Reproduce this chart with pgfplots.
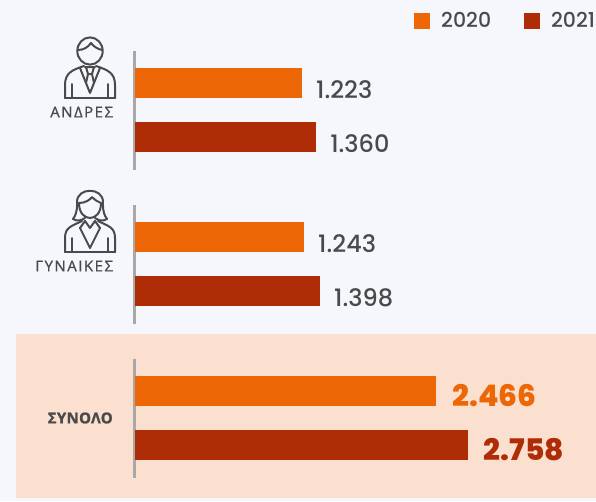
\documentclass[border=0pt]{standalone}
\usepackage{fontspec}
\usepackage{pgfplots}
\pgfplotsset{compat=1.18}
\setmainfont[UprightFeatures={FakeBold=0.9,LetterSpace=10},BoldFeatures={FakeBold=1.2,LetterSpace=2}]{Open Sans}
\newfontfamily\numf[UprightFont=* Medium,BoldFont=* ExtraBold]{Poppins}
\definecolor{bg}{HTML}{F5F7FC}
\definecolor{panel}{HTML}{FBE0D0}
\definecolor{oran}{HTML}{EE6707}
\definecolor{brick}{HTML}{AE2C06}
\definecolor{ink}{HTML}{4A4A4A}
\definecolor{axgray}{HTML}{A8A8A8}
\pgfplotsset{
  grp/.style={
    scale only axis, width=462pt, anchor=north west,
    y dir=reverse, axis y line*=left, axis x line=none,
    y axis line style={draw=axgray,line width=3pt,-},
    xtick=\empty, ytick style={draw=none},
    xbar, bar width=30pt, bar shift=0pt,
    clip=false,
    point meta=explicit symbolic,
    nodes near coords,
    every node near coord/.style={anchor=west,font=\numf\fontsize{24}{24}\selectfont,text=ink,inner sep=0pt,xshift=14pt,yshift=-7pt},
    yticklabel style={font=\fontsize{15}{15}\selectfont,text=ink,anchor=east,xshift=-16.5pt,inner sep=0pt},
  }
}
\begin{document}
\begin{tikzpicture}[x=1pt,y=-1pt]
\path[use as bounding box] (0,0) rectangle (596,501);
\fill[bg] (0,0) rectangle (596,501);
\fill[panel] (16,334) rectangle (596,498);
% man icon
\begin{scope}[draw=ink,line width=2pt,line join=round,line cap=round]
\draw (90,51) ellipse (12.7 and 13.6);
\draw (78,50) .. controls (84,50) and (88,47) .. (91,43) .. controls (94,47) and (98,49) .. (102,50);
\draw (65,98) -- (65,85) .. controls (65,73) and (72,70) .. (84,66);
\draw (115,98) -- (115,85) .. controls (115,73) and (108,70) .. (96,66);
\draw (65,98) -- (115,98);
\draw (72,84) -- (72,98) (108,84) -- (108,98);
\draw (80,68) -- (90,93) -- (100,68);
\draw (85,67) -- (95,67) (86,67) -- (88,74) -- (92,74) -- (94,67) (88,74) -- (86,83) (92,74) -- (94,83);
\end{scope}
% woman icon
\begin{scope}[draw=ink,line width=2pt,line join=round,line cap=round]
\draw (73,219) .. controls (78,212) and (77,205) .. (77,202) .. controls (77,187) and (103,187) .. (103,202) .. controls (103,205) and (102,212) .. (107,219);
\draw (79,203) .. controls (85,203) and (90,200) .. (92,197) .. controls (95,200) and (98,202) .. (101,203);
\draw (79,203) .. controls (79,223) and (101,223) .. (101,203);
\draw (73,219) .. controls (78,222) and (82,220) .. (85,218);
\draw (107,219) .. controls (102,222) and (98,220) .. (95,218);
\draw (65,252) -- (65,238) .. controls (65,227) and (72,226) .. (82,221);
\draw (115,252) -- (115,238) .. controls (115,227) and (108,226) .. (98,221);
\draw (65,252) -- (115,252);
\draw (72,238) -- (72,252) (108,238) -- (108,252);
\draw (80,228) -- (90,248) -- (100,228);
\draw (85,221) -- (90,228) -- (95,221) (80,228) -- (85,221) (100,228) -- (95,221);
\end{scope}
% men
\begin{axis}[grp, at={(134pt,-51pt)}, height=119pt, ymin=51, ymax=170,
  x coord trafo/.code={\pgfmathparse{#1+398}}, xmin=-408, xmax=4078,
  ytick={112}, yticklabels={ΑΝΔΡΕΣ}]
\addplot[fill=oran,draw=none] coordinates {(1223,83) [1.223]};
\addplot[fill=brick,draw=none] coordinates {(1360,137) [1.360]};
\end{axis}
% women
\begin{axis}[grp, at={(134pt,-205pt)}, height=119pt, ymin=205, ymax=324,
  x coord trafo/.code={\pgfmathparse{#1+398}}, xmin=-408, xmax=4078,
  ytick={266}, yticklabels={ΓΥΝΑΙΚΕΣ}]
\addplot[fill=oran,draw=none] coordinates {(1243,237) [1.243]};
\addplot[fill=brick,draw=none] coordinates {(1398,291) [1.398]};
\end{axis}
% total
\begin{axis}[grp, at={(134pt,-359pt)}, height=119pt, ymin=359, ymax=478,
  x coord trafo/.code={\pgfmathparse{#1+321}}, xmin=-330, xmax=3947,
  ytick={418}, yticklabels={\textbf{ΣΥΝΟΛΟ}},
  every node near coord/.append style={font=\numf\bfseries\fontsize{29.7}{29}\selectfont,xshift=2pt,yshift=2pt}]
\addplot[fill=oran,draw=none,every node near coord/.append style={text=oran}] coordinates {(2466,391) [2.466]};
\addplot[fill=brick,draw=none,every node near coord/.append style={text=brick}] coordinates {(2758,445) [2.758]};
\end{axis}
% legend
\begin{axis}[at={(0pt,0pt)},anchor=north west,scale only axis,width=596pt,height=40pt,hide axis,xmin=0,xmax=1,ymin=0,ymax=1,
  legend image code/.code={\fill[#1,draw=none] (0,-8pt) rectangle (16pt,8pt);},
  legend style={at={(414pt,19pt)},anchor=west,draw=none,fill=none,legend columns=2,font=\numf\fontsize{20.5}{21}\selectfont,text=ink,inner sep=0pt,
  /tikz/every even column/.append style={column sep=31pt},
  /tikz/every odd column/.append style={column sep=9pt}}]
\addlegendimage{oran}\addlegendentry{2020}
\addlegendimage{brick}\addlegendentry{2021}
\end{axis}
\end{tikzpicture}
\end{document}
